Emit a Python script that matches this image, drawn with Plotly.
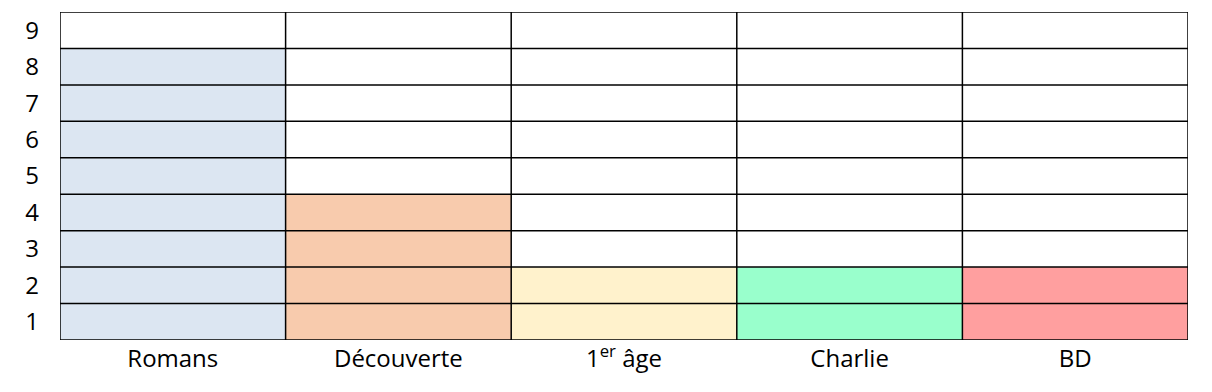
import plotly.graph_objects as go

categories = ["Romans", "Découverte", "1<sup>er</sup> âge", "Charlie", "BD"]
values = [8, 4, 2, 2, 2]
colors = ["#DCE6F2", "#F8CBAD", "#FFF2CC", "#99FFCC", "#FF9F9F"]
row_labels = ["1", "2", "3", "4", "5", "6", "7", "8", "9"]

n_cols = len(categories)
n_rows = len(row_labels)
xc = [i + 0.5 for i in range(n_cols)]
yc = [j + 0.5 for j in range(n_rows)]

fig = go.Figure(go.Bar(x=xc, y=values, width=1, marker=dict(color=colors, line=dict(width=0)),
                       hoverinfo="skip"))

shapes = []
for i in range(n_cols + 1):
    shapes.append(dict(type="line", xref="x", yref="y", x0=i, x1=i, y0=0, y1=n_rows,
                       line=dict(color="black", width=1.5), layer="above"))
for j in range(n_rows + 1):
    shapes.append(dict(type="line", xref="x", yref="y", x0=0, x1=n_cols, y0=j, y1=j,
                       line=dict(color="black", width=1.5), layer="above"))

# page body has an 8px default margin, so the figure is sized to fit inside it
fig.update_layout(
    width=1204, height=384,
    margin=dict(l=52, r=24, t=4, b=52),
    paper_bgcolor="white", plot_bgcolor="white",
    showlegend=False, bargap=0,
    shapes=shapes,
    font=dict(family="Open Sans, Lato, sans-serif", size=24, color="black"),
    xaxis=dict(range=[0, n_cols], tickvals=xc, ticktext=categories, showgrid=False,
               zeroline=False, showline=False, ticks="", ticklabelstandoff=2,
               automargin=False, fixedrange=True),
    yaxis=dict(range=[0, n_rows], tickvals=yc, ticktext=row_labels, showgrid=False,
               zeroline=False, showline=False, ticks="", ticklabelstandoff=20,
               automargin=False, fixedrange=True),
)

fig.write_html("out.html")
